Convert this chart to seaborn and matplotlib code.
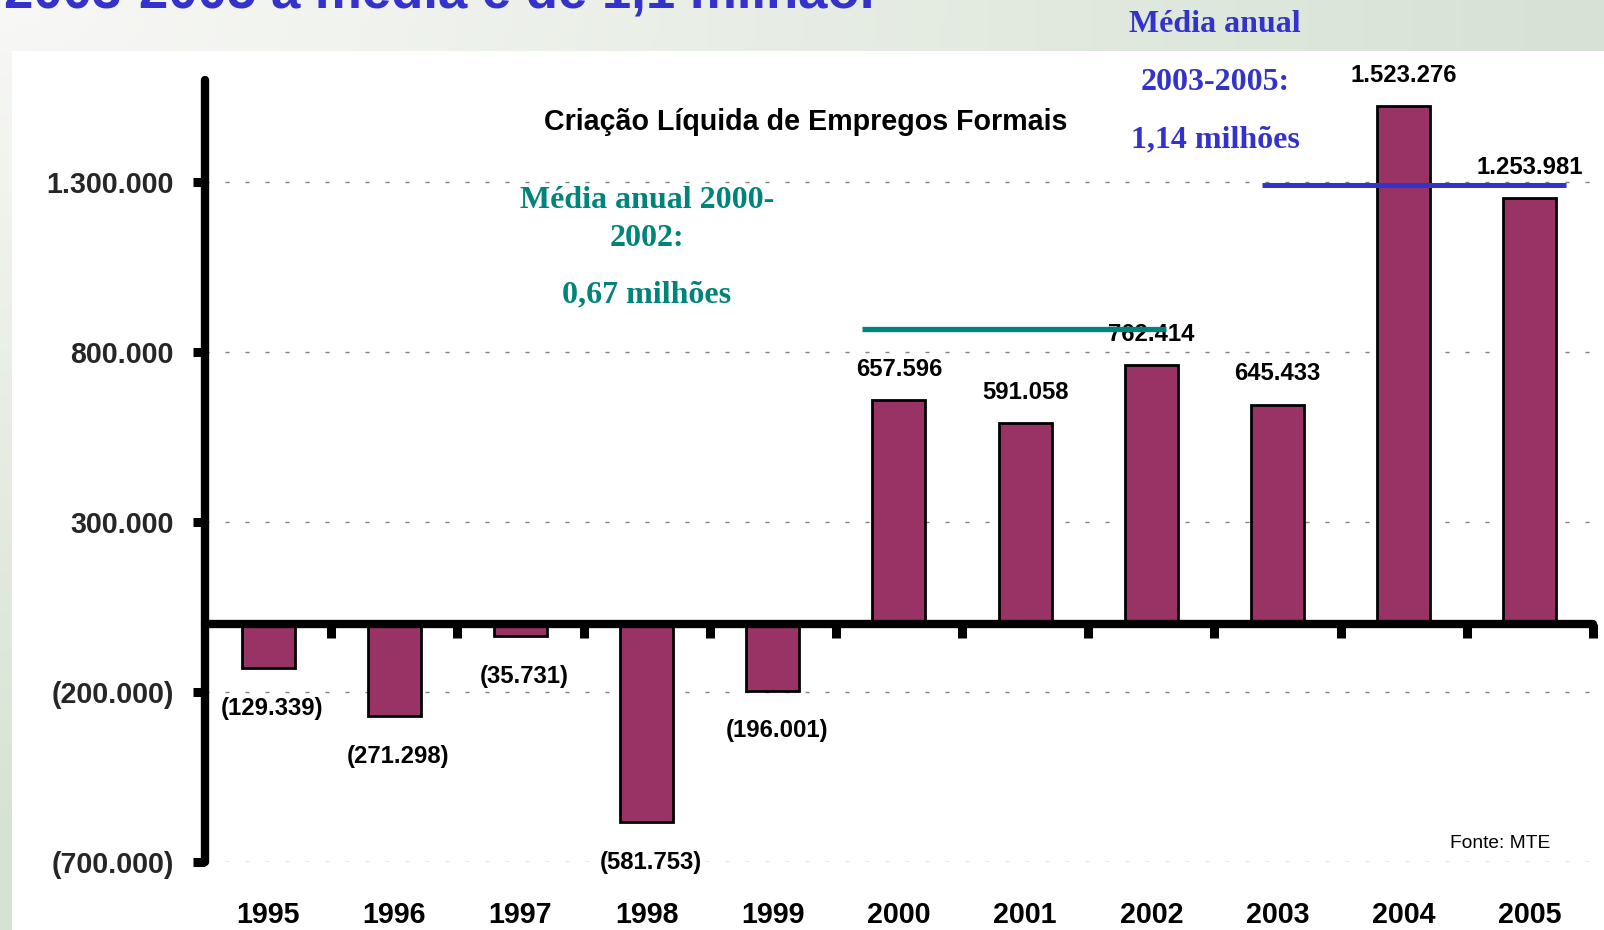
import numpy as np
import pandas as pd
import matplotlib
matplotlib.use('Agg')
import matplotlib.pyplot as plt
import seaborn as sns
from matplotlib import font_manager
from matplotlib.patches import Rectangle

# saldo anual de empregos formais (MTE)
anos = ['1995', '1996', '1997', '1998', '1999', '2000', '2001', '2002', '2003', '2004', '2005']
saldo = [-129339, -271298, -35731, -581753, -196001, 657596, 591058, 762414, 645433, 1523276, 1253981]
ticks_y = [-700000, -200000, 300000, 800000, 1300000]

texto_media_1 = ['Média anual 2000-', '2002:', '0,67 milhões']
texto_media_2 = ['Média anual', '2003-2005:', '1,14 milhões']
# linhas de média como desenhadas no slide: (nível, início, fim)
linha_media_1 = (867000, 4.71, 7.12)
linha_media_2 = (1290000, 7.88, 10.29)

titulo = 'Criação Líquida de Empregos Formais'
titulo_slide = '2003-2005 a média é de 1,1 milhão.'
fonte = 'Fonte: MTE'

COR_BARRA = '#993366'
COR_TEAL = '#008479'
COR_AZUL = '#3333cc'

sns.set_theme(style='white')
nomes = {f.name for f in font_manager.fontManager.ttflist}
NARROW = 'Liberation Sans Narrow' if 'Liberation Sans Narrow' in nomes else 'Liberation Sans'
k = 1.0 if NARROW == 'Liberation Sans Narrow' else 0.86
plt.rcParams['font.family'] = [NARROW, 'DejaVu Sans']


def rotulo(v):
    s = f'{abs(v):,}'.replace(',', '.')
    return f'({s})' if v < 0 else s


df = pd.DataFrame({'ano': anos, 'saldo': saldo})

fig = plt.figure(figsize=(16.04, 9.30), dpi=100)

# fundo do slide (degradê claro esverdeado) + painel branco
u, v = np.meshgrid(np.linspace(0, 1, 200), np.linspace(0, 1, 120))
t = np.clip(np.sqrt(u ** 2 + (v * 1.1) ** 2), 0, 1)[..., None]
claro = np.array([248, 248, 246]) / 255
verde = np.array([214, 226, 211]) / 255
grad = claro * (1 - t) + verde * t
bg = fig.add_axes([0, 0, 1, 1], zorder=-2)
bg.imshow(grad, extent=[0, 1, 0, 1], aspect='auto', origin='upper')
bg.axis('off')
fig.add_artist(Rectangle((12 / 1604, 0), 1, 1 - 51 / 930, transform=fig.transFigure,
                         facecolor='white', edgecolor='none', zorder=-1))

ax = fig.add_axes([0.1278, 0.0731, 0.8653, 0.8409])
ax.set_facecolor('none')
sns.barplot(data=df, x='ano', y='saldo', color=COR_BARRA, saturation=1, width=0.42,
            edgecolor='black', linewidth=2, ax=ax)

ax.set_xlim(-0.5, len(anos) - 0.5)
ax.set_ylim(-700000, 1600000)
ax.set_xlabel('')
ax.set_ylabel('')

ax.set_xticks(np.arange(len(anos)) + 0.5)
ax.set_xticklabels([])
ax.set_yticks(ticks_y)
ax.set_yticklabels([rotulo(v) for v in ticks_y], fontsize=24 * k, fontweight='bold')
ax.tick_params(axis='x', bottom=True, direction='out', length=10, width=6.5, color='black')
ax.tick_params(axis='y', left=True, direction='out', length=8.6, width=6.5, color='black', pad=14)

ax.grid(axis='y', color='#808080', linewidth=1, linestyle=(0, (2.9, 11.5)))
ax.grid(axis='x', visible=False)
ax.set_axisbelow(True)

for s in ['top', 'right']:
    ax.spines[s].set_visible(False)
for s in ['left', 'bottom']:
    ax.spines[s].set_color('black')
    ax.spines[s].set_linewidth(6)
    ax.spines[s].set_capstyle('round')
ax.spines['bottom'].set_position(('data', 0))

for barra, val in zip(ax.containers[0], saldo):
    cx = barra.get_x() + barra.get_width() / 2
    off = (0, 22) if val > 0 else (3, -29)
    ax.annotate(rotulo(val), (cx, val), xytext=off, textcoords='offset points',
                ha='center', va='center', fontsize=20 * k, fontweight='bold', color='black')

for i, ano in enumerate(anos):
    ax.text(i, -0.068, ano, transform=ax.get_xaxis_transform(), ha='center', va='center',
            fontsize=24 * k, fontweight='bold', color='black')

ax.hlines(linha_media_1[0], linha_media_1[1], linha_media_1[2], color=COR_TEAL, linewidth=3.8, zorder=5)
ax.hlines(linha_media_2[0], linha_media_2[1], linha_media_2[2], color=COR_AZUL, linewidth=3.6, zorder=5)

serif = dict(family='Liberation Serif', fontweight='bold', fontsize=23, ha='center', va='center')
for txt, y in zip(texto_media_1, [200, 238, 295]):
    fig.text(647 / 1604, 1 - y / 930, txt, color=COR_TEAL, **serif)
for txt, y in zip(texto_media_2, [24, 82, 140]):
    fig.text(1215 / 1604, 1 - y / 930, txt, color=COR_AZUL, **serif)

fig.text(806 / 1604, 1 - 122 / 930, titulo, ha='center', va='center',
         fontsize=24 * k, fontweight='bold', color='black')
fig.text(1500 / 1604, 1 - 843 / 930, fonte, ha='center', va='center',
         fontsize=16 * k, color='black')
fig.text(4 / 1604, 1 - 7 / 930, titulo_slide, ha='left', va='baseline',
         fontsize=38, fontweight='bold', color=COR_AZUL, family='Liberation Sans')

fig.savefig('out.png', dpi=100)
